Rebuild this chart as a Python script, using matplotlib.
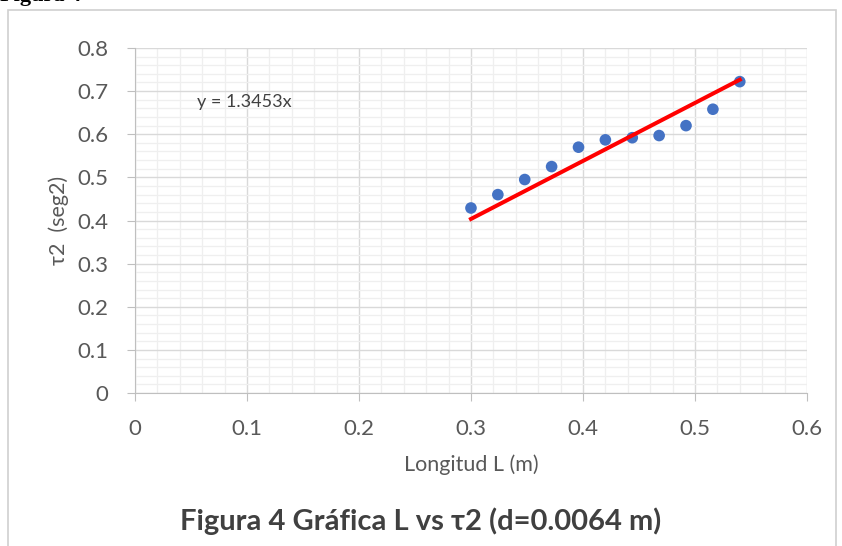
import numpy as np
from matplotlib import pyplot as plt
from matplotlib.patches import Rectangle
from matplotlib.ticker import MultipleLocator

# datos
longitud = [0.300, 0.324, 0.348, 0.372, 0.396, 0.420, 0.444, 0.468, 0.492, 0.516, 0.540]
tau2 = [0.429, 0.460, 0.495, 0.525, 0.570, 0.587, 0.592, 0.597, 0.620, 0.658, 0.722]
pendiente = 1.3453

x_ticks = [0, 0.1, 0.2, 0.3, 0.4, 0.5, 0.6]
y_ticks = [0, 0.1, 0.2, 0.3, 0.4, 0.5, 0.6, 0.7, 0.8]

plt.rcParams['font.family'] = ['Lato', 'DejaVu Sans']

fig = plt.figure(figsize=(8.42, 5.46), dpi=100)
ax = fig.add_axes([0.1603, 0.2802, 0.7981, 0.6319])

## marco del grafico
fig.patches.append(Rectangle((0.0095, -0.02), 0.9834, 1.0017, transform=fig.transFigure,
                             fill=False, edgecolor='#d0d0d0', linewidth=1.2))
fig.text(0.0, 1.0 + 0.008, "Figura 4", fontsize=16, fontweight='bold',
         family='Liberation Serif', va='center', ha='left')

## rejilla
ax.xaxis.set_minor_locator(MultipleLocator(0.02))
ax.yaxis.set_minor_locator(MultipleLocator(0.02))
ax.grid(which='major', color='#d9d9d9', linewidth=1.0)
ax.grid(which='minor', color='#efefef', linewidth=0.9)
ax.set_axisbelow(True)

ax.scatter(longitud, tau2, s=70, color='#4472C4', zorder=3, edgecolors='none')
lx = np.array([longitud[0], longitud[-1]])
ax.plot(lx, pendiente * lx, color='#ff0000', linewidth=2.9, zorder=4)

ax.text(0.0558, 0.675, "y = 1.3453x", fontsize=13, color='#404040', va='center')

ax.set_xlim(0, 0.6)
ax.set_ylim(0, 0.8)
ax.set_xticks(x_ticks)
ax.set_yticks(y_ticks)
ax.set_xticklabels([f"{v:g}" for v in x_ticks])
ax.set_yticklabels([f"{v:g}" for v in y_ticks])
ax.tick_params(which='major', length=6, color='#bfbfbf', labelcolor='#595959',
               labelsize=16)
ax.tick_params(axis='y', which='major', pad=13)
ax.tick_params(axis='x', which='major', pad=13)
ax.tick_params(which='minor', length=0)

for s in ['top', 'right']:
    ax.spines[s].set_visible(False)
for s in ['left', 'bottom']:
    ax.spines[s].set_color('#bfbfbf')

ax.set_xlabel("Longitud L (m)", fontsize=15.5, color='#595959', labelpad=11)
ax.set_ylabel("τ2  (seg2)", fontsize=15.5, color='#595959', labelpad=6)

fig.text(0.5, 0.045, "Figura 4 Gráfica L vs τ2 (d=0.0064 m)", fontsize=21,
         fontweight='bold', color='#404040', ha='center', va='center')

fig.savefig('out.png', dpi=100)
